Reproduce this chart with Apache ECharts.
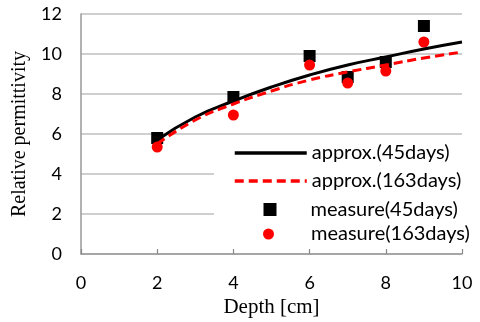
<!DOCTYPE html>
<html><head><meta charset="utf-8">
<script src="https://cdn.jsdelivr.net/npm/echarts@6/dist/echarts.min.js"></script>
<style>html,body{margin:0;padding:0;background:#fff}#c{width:480px;height:322px}</style>
</head><body><div id="c"></div>
<script>
const depthMeasured = [2, 4, 6, 7, 8, 9];
const measure45 = [5.8, 7.85, 9.9, 8.85, 9.6, 11.4];
const measure163 = [5.35, 6.95, 9.45, 8.55, 9.15, 10.6];
const depthApprox = [2, 3, 4, 5, 6, 7, 8, 9, 10];
const approx45 = [5.7, 6.85, 7.65, 8.35, 8.95, 9.45, 9.85, 10.25, 10.6];
const approx163 = [5.5, 6.7, 7.5, 8.15, 8.7, 9.1, 9.45, 9.8, 10.1];
const xTicks = [0, 2, 4, 6, 8, 10];
const yTicks = [0, 2, 4, 6, 8, 10, 12];
const names = ['approx.(45days)', 'approx.(163days)', 'measure(45days)', 'measure(163days)'];

const zip = (xs, ys) => xs.map((x, i) => [x, ys[i]]);
const tickFont = {fontFamily: 'Lato', fontSize: 18, color: '#000'};
const legText = {fontFamily: 'Lato', fontSize: 20, color: '#000'};

const chart = echarts.init(document.getElementById('c'));
chart.setOption({
  animation: false,
  backgroundColor: '#fff',
  grid: {left: 81, right: 18, top: 14, bottom: 68, containLabel: false, outerBoundsMode: 'none'},
  xAxis: {
    type: 'value', min: xTicks[0], max: xTicks[xTicks.length - 1], interval: 2,
    axisLine: {lineStyle: {color: '#999', width: 1.5}},
    axisTick: {show: true, inside: true, length: 5, lineStyle: {color: '#888', width: 1.2}},
    axisLabel: Object.assign({margin: 20}, tickFont),
    splitLine: {show: false},
    name: 'Depth [cm]', nameLocation: 'middle', nameGap: 42,
    nameTextStyle: {fontFamily: 'Liberation Serif', fontSize: 21, color: '#000'}
  },
  yAxis: {
    type: 'value', min: yTicks[0], max: yTicks[yTicks.length - 1], interval: 2,
    axisLine: {show: true, lineStyle: {color: '#999', width: 1.5}},
    axisTick: {show: false},
    axisLabel: Object.assign({margin: 19}, tickFont),
    splitLine: {show: true, lineStyle: {color: '#bfbfbf', width: 1.5}},
    name: 'Relative permittivity', nameLocation: 'middle', nameGap: 49,
    nameTextStyle: {fontFamily: 'Liberation Serif', fontSize: 20, color: '#000'}
  },
  graphic: [{type: 'rect', left: 214, top: 140, shape: {width: 250, height: 105}, style: {fill: '#fff'}, z: 1}],
  legend: [
    {data: [names[0], names[1]], orient: 'vertical', left: 233, top: 143, padding: 0,
     itemWidth: 72, itemHeight: 20, itemGap: 8, textStyle: legText, z: 5,
     lineStyle: {width: 3.5},
     itemStyle: {color: 'rgba(0,0,0,0)', borderWidth: 0}},
    {data: [names[2]], left: 263.5, top: 199.5, padding: 0,
     itemWidth: 13, itemHeight: 13, textStyle: Object.assign({padding: [0, 0, 0, 29]}, legText), z: 5},
    {data: [names[3]], left: 263, top: 224, padding: 0,
     itemWidth: 11, itemHeight: 11, textStyle: Object.assign({padding: [0, 0, 0, 32]}, legText), z: 5}
  ],
  series: [
    {name: names[0], type: 'line', data: zip(depthApprox, approx45), smooth: true, showSymbol: false,
     symbol: 'none', lineStyle: {color: '#000', width: 3}, itemStyle: {color: '#000'}},
    {name: names[1], type: 'line', data: zip(depthApprox, approx163), smooth: true, showSymbol: false,
     symbol: 'none', lineStyle: {color: '#ff0000', width: 3, type: [9, 5]}, itemStyle: {color: '#ff0000'}},
    {name: names[2], type: 'scatter', data: zip(depthMeasured, measure45), symbol: 'rect', symbolSize: 12,
     itemStyle: {color: '#000', opacity: 1}},
    {name: names[3], type: 'scatter', data: zip(depthMeasured, measure163), symbol: 'circle', symbolSize: 11,
     itemStyle: {color: '#ff0000', opacity: 1}}
  ]
});
</script></body></html>
